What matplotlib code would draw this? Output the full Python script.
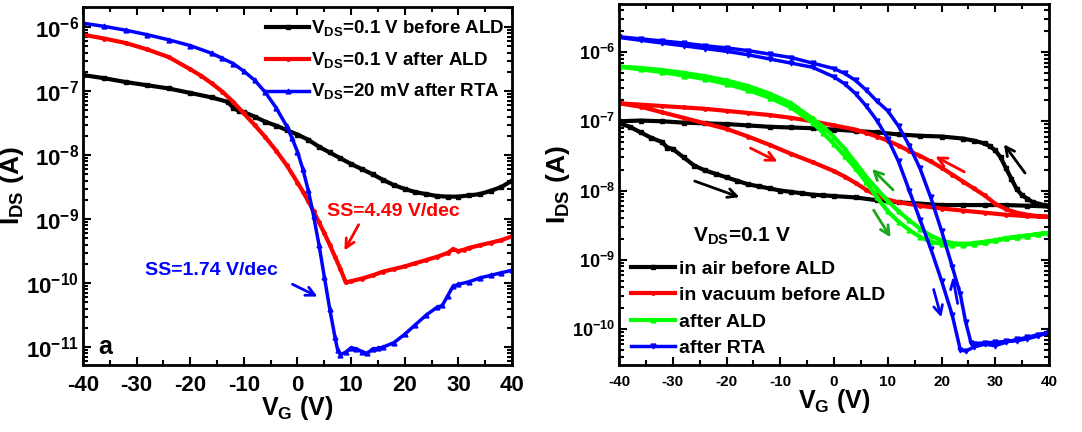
import numpy as np
import matplotlib
matplotlib.use("Agg")
import matplotlib.pyplot as plt
from matplotlib.ticker import MultipleLocator, LogLocator, NullFormatter

plt.rcParams['font.family'] = ['Liberation Sans', 'DejaVu Sans']
plt.rcParams['font.weight'] = 'bold'
plt.rcParams['axes.labelweight'] = 'bold'
plt.rcParams['axes.unicode_minus'] = False

# ---- panel a: transfer curves (log10 of I_DS in A) ----
vg_black_a = [-40, -36, -32, -28, -24, -20, -16, -13, -12, -11, -10, -8, -6, -4, -2, 0, 2, 4, 6, 8,
              10, 12, 14, 16, 18, 20, 22, 24, 26, 28, 30, 32, 34, 36, 38, 40]
log_black_a = [-6.75, -6.80, -6.86, -6.91, -6.96, -7.03, -7.10, -7.17, -7.26, -7.31, -7.33, -7.40, -7.48,
               -7.54, -7.61, -7.68, -7.76, -7.87, -7.96, -8.05, -8.14, -8.22, -8.30, -8.39, -8.47, -8.53,
               -8.58, -8.61, -8.64, -8.65, -8.65, -8.63, -8.61, -8.56, -8.50, -8.40]

vg_red_a = [-40, -36, -32, -28, -24, -20, -18, -16, -14, -12, -10, -8, -6, -4, -2, 0, 1, 2, 3, 4, 5, 6,
            7, 8, 9, 10, 12, 14, 16, 18, 20, 22, 24, 26, 28, 29, 30, 31, 32, 34, 36, 38, 40]
log_red_a = [-6.12, -6.18, -6.25, -6.35, -6.47, -6.66, -6.76, -6.88, -7.01, -7.17, -7.35, -7.53, -7.72,
             -7.93, -8.16, -8.43, -8.57, -8.72, -8.88, -9.05, -9.22, -9.40, -9.59, -9.78, -9.99, -9.97,
             -9.93, -9.88, -9.82, -9.78, -9.74, -9.69, -9.64, -9.59, -9.53, -9.47, -9.50, -9.48, -9.45,
             -9.41, -9.37, -9.33, -9.27]

vg_blue_a = [-40, -36, -32, -28, -24, -20, -16, -14, -12, -10, -8, -6, -4, -2, -1, 0, 1, 2, 3, 4, 5, 6,
             7, 7.5, 8, 9, 10, 11, 12, 13, 14, 15, 16, 18, 20, 22, 24, 26, 27, 28, 29, 30, 32, 34, 36,
             38, 40]
log_blue_a = [-5.94, -5.99, -6.05, -6.12, -6.20, -6.29, -6.41, -6.49, -6.57, -6.69, -6.83, -7.02, -7.26,
              -7.55, -7.74, -7.95, -8.22, -8.55, -8.95, -9.40, -9.90, -10.40, -10.85, -11.05, -11.12,
              -11.08, -11.01, -11.03, -11.07, -11.10, -11.03, -11.02, -11.00, -10.93, -10.80, -10.65,
              -10.50, -10.38, -10.35, -10.20, -10.05, -10.02, -9.98, -9.92, -9.88, -9.84, -9.80]

labels_a = [r'V$_{\mathdefault{DS}}$=0.1 V before ALD',
            r'V$_{\mathdefault{DS}}$=0.1 V after ALD',
            r'V$_{\mathdefault{DS}}$=20 mV after RTA']

# ---- panel b: double sweeps, forward (-40 -> 40) then reverse (40 -> -40) ----
vg_black_fwd = [-40, -38, -36, -34, -32, -31, -30, -28, -26, -24, -22, -20, -18, -16, -14, -12, -10,
                -8, -6, -4, -2, 0, 4, 8, 12, 16, 20, 24, 28, 32, 36, 40]
log_black_fwd = [-7.03, -7.08, -7.16, -7.24, -7.30, -7.38, -7.40, -7.52, -7.64, -7.71, -7.76, -7.81,
                 -7.86, -7.91, -7.94, -7.97, -8.00, -8.02, -8.04, -8.06, -8.07, -8.08, -8.10, -8.14,
                 -8.17, -8.19, -8.21, -8.21, -8.21, -8.21, -8.22, -8.23]
vg_black_rev = [40, 39, 38, 37, 36, 35, 34, 33, 32, 31, 30, 29, 28, 26, 24, 20, 16, 12, 8, 4, 0, -4,
                -8, -12, -16, -20, -24, -28, -32, -36, -40]
log_black_rev = [-8.22, -8.21, -8.19, -8.17, -8.12, -8.07, -7.98, -7.83, -7.68, -7.52, -7.42, -7.36,
                 -7.32, -7.28, -7.25, -7.22, -7.21, -7.19, -7.16, -7.14, -7.12, -7.10, -7.09, -7.08,
                 -7.06, -7.04, -7.03, -7.02, -7.00, -6.99, -7.00]

vg_red_fwd = [-40, -36, -32, -28, -24, -20, -16, -12, -8, -4, 0, 2, 4, 6, 8, 10, 12, 16, 20, 24, 28,
              32, 36, 40]
log_red_fwd = [-6.74, -6.79, -6.87, -6.95, -7.03, -7.11, -7.22, -7.34, -7.47, -7.59, -7.72, -7.80,
               -7.89, -7.99, -8.07, -8.13, -8.17, -8.22, -8.26, -8.29, -8.32, -8.35, -8.37, -8.38]
vg_red_rev = [40, 38, 36, 34, 32, 30, 28, 26, 24, 22, 20, 18, 16, 14, 12, 10, 8, 6, 4, 0, -4, -8, -12,
              -16, -20, -24, -28, -32, -36, -40]
log_red_rev = [-8.38, -8.37, -8.35, -8.32, -8.27, -8.19, -8.07, -7.97, -7.87, -7.77, -7.67, -7.58,
               -7.50, -7.43, -7.35, -7.28, -7.22, -7.17, -7.12, -7.06, -7.00, -6.95, -6.91, -6.88,
               -6.85, -6.82, -6.80, -6.78, -6.76, -6.74]

vg_green_fwd = [-40, -36, -32, -28, -24, -20, -16, -12, -8, -4, -2, 0, 2, 4, 6, 8, 10, 12, 14, 16, 18,
                20, 22, 24, 26, 28, 30, 32, 34, 36, 38, 40]
log_green_fwd = [-6.21, -6.25, -6.29, -6.34, -6.39, -6.46, -6.55, -6.66, -6.80, -7.02, -7.17, -7.33,
                 -7.50, -7.68, -7.88, -8.10, -8.30, -8.45, -8.57, -8.67, -8.74, -8.77, -8.78, -8.78,
                 -8.77, -8.75, -8.72, -8.69, -8.67, -8.65, -8.63, -8.61]
vg_green_rev = [40, 38, 36, 34, 32, 30, 28, 26, 24, 22, 20, 18, 16, 14, 12, 10, 8, 6, 4, 2, 0, -2, -4,
                -8, -12, -16, -20, -24, -28, -32, -36, -40]
log_green_rev = [-8.61, -8.63, -8.65, -8.67, -8.69, -8.72, -8.74, -8.76, -8.77, -8.76, -8.72, -8.65,
                 -8.55, -8.43, -8.30, -8.15, -7.98, -7.80, -7.60, -7.40, -7.23, -7.08, -6.96, -6.74,
                 -6.60, -6.49, -6.41, -6.35, -6.30, -6.26, -6.23, -6.21]

vg_blue_fwd = [-40, -36, -32, -28, -24, -20, -16, -12, -8, -4, 0, 2, 4, 6, 8, 10, 12, 14, 16, 18, 20,
               22, 23.5, 24.5, 26, 28, 30, 32, 34, 36, 38, 40]
log_blue_fwd = [-5.79, -5.83, -5.87, -5.91, -5.95, -5.99, -6.04, -6.10, -6.16, -6.22, -6.36, -6.46,
                -6.60, -6.78, -6.99, -7.25, -7.58, -8.00, -8.42, -8.84, -9.30, -9.80, -10.30, -10.32,
                -10.26, -10.22, -10.24, -10.19, -10.15, -10.12, -10.08, -10.05]
vg_blue_rev = [40, 38, 36, 34, 32, 30, 28, 26, 25.5, 24.5, 23.5, 22, 20, 18, 16, 14, 12, 10, 8, 6, 4,
               2, 0, -4, -8, -12, -16, -20, -24, -28, -32, -36, -40]
log_blue_rev = [-10.05, -10.10, -10.14, -10.17, -10.18, -10.19, -10.20, -10.21, -10.20, -9.90, -9.50,
                -9.10, -8.58, -8.10, -7.68, -7.35, -7.07, -6.85, -6.71, -6.55, -6.41, -6.31, -6.24,
                -6.16, -6.08, -6.03, -5.98, -5.94, -5.91, -5.87, -5.84, -5.81, -5.78]

labels_b = ['in air before ALD', 'in vacuum before ALD', 'after ALD', 'after RTA']


def style_axes(ax, xsize, ysize):
    ax.set_xlim(-40, 40)
    ax.xaxis.set_major_locator(MultipleLocator(10))
    ax.set_xticks(np.arange(-35, 40, 10), minor=True)
    ax.yaxis.set_major_locator(LogLocator(base=10, numticks=20))
    ax.yaxis.set_minor_locator(LogLocator(base=10, subs=np.arange(2, 10), numticks=20))
    ax.yaxis.set_minor_formatter(NullFormatter())
    ax.tick_params(which='both', direction='in', top=True, right=True, width=1.5)
    ax.tick_params(which='major', length=6)
    ax.tick_params(which='minor', length=3.5)
    ax.tick_params(axis='x', labelsize=xsize, pad=7)
    ax.tick_params(axis='y', labelsize=ysize, pad=3)
    for s in ax.spines.values():
        s.set_linewidth(2)


fig = plt.figure(figsize=(10.82, 4.32), dpi=100)

# left panel
ax1 = fig.add_axes([0.0767, 0.155, 0.3965, 0.8287])
ax1.set_yscale('log')
ax1.plot(vg_black_a, np.power(10.0, log_black_a), '-s', color='black', lw=3, ms=2.5, label=labels_a[0])
ax1.plot(vg_red_a, np.power(10.0, log_red_a), '-o', color='red', lw=3, ms=2.5, label=labels_a[1])
ax1.plot(vg_blue_a, np.power(10.0, log_blue_a), '-^', color='blue', lw=2.5, ms=3.5, label=labels_a[2])
ax1.set_ylim(10 ** -11.281, 10 ** -5.6875)
style_axes(ax1, 16, 16)
ax1.set_xlabel(r'V$_{\mathdefault{G}}$ (V)', fontsize=18, labelpad=-1)
ax1.set_ylabel(r'I$_{\mathdefault{DS}}$ (A)', fontsize=19, labelpad=0)
ax1.legend(loc='upper right', bbox_to_anchor=(1.01, 1.0), frameon=False, fontsize=13.5,
           handlelength=2.3, handletextpad=0.1, labelspacing=0.62, borderaxespad=0.2)

ax1.text(5.5, 10 ** -8.875, 'SS=4.49 V/dec', color='red', fontsize=14, va='center', ha='left')
ax1.annotate('', xy=(8.5, 10 ** -9.53), xytext=(11.65, 10 ** -9.05),
             arrowprops=dict(arrowstyle='->', color='red', lw=2, mutation_scale=16))
ax1.text(-28.4, 10 ** -9.81, 'SS=1.74 V/dec', color='blue', fontsize=14, va='center', ha='left')
ax1.annotate('', xy=(4.2, 10 ** -10.23), xytext=(-1.4, 10 ** -10.0),
             arrowprops=dict(arrowstyle='->', color='blue', lw=2, mutation_scale=16))
ax1.text(-37.2, 10 ** -11.0, 'a', color='black', fontsize=18, va='center', ha='left')

# right panel
ax2 = fig.add_axes([0.5721, 0.155, 0.3974, 0.8357])
ax2.set_yscale('log')
ax2.plot(vg_black_fwd + vg_black_rev, np.power(10.0, log_black_fwd + log_black_rev), '-s',
         color='black', lw=3, ms=2.5, label=labels_b[0])
ax2.plot(vg_red_fwd + vg_red_rev, np.power(10.0, log_red_fwd + log_red_rev), '-o',
         color='red', lw=3, ms=2.5, label=labels_b[1])
ax2.plot(vg_green_fwd + vg_green_rev, np.power(10.0, log_green_fwd + log_green_rev), '-^',
         color='#00ff00', lw=3, ms=3.5, label=labels_b[2])
ax2.plot(vg_blue_fwd + vg_blue_rev, np.power(10.0, log_blue_fwd + log_blue_rev), '-v',
         color='blue', lw=2.5, ms=3.5, label=labels_b[3])
ax2.set_ylim(10 ** -10.52, 10 ** -5.307)
style_axes(ax2, 11, 13)
ax2.set_xlabel(r'V$_{\mathdefault{G}}$ (V)', fontsize=18, labelpad=-1)
ax2.set_ylabel(r'I$_{\mathdefault{DS}}$ (A)', fontsize=19, labelpad=0)
ax2.legend(loc='lower left', bbox_to_anchor=(0.0, -0.01), frameon=False, fontsize=14,
           handlelength=2.3, handletextpad=0.2, labelspacing=0.45, borderaxespad=0.2)
ax2.text(-26.2, 10 ** -8.66, r'V$_{\mathdefault{DS}}$=0.1 V', fontsize=15, va='center', ha='left')

arrows_b = [
    ((-26.4, -7.85), (-17.1, -8.11), 'black'),
    ((35.85, -7.78), (31.3, -7.30), 'black'),
    ((-16.0, -7.37), (-10.05, -7.60), 'red'),
    ((24.7, -7.75), (18.4, -7.49), 'red'),
    ((11.35, -8.02), (6.7, -7.66), '#1aa81a'),
    ((7.1, -8.25), (10.8, -8.71), '#1aa81a'),
    ((18.4, -9.39), (20.1, -9.87), 'blue'),
    ((23.1, -9.67), (22.0, -9.21), 'blue'),
]
for (x0, y0), (x1, y1), c in arrows_b:
    ax2.annotate('', xy=(x1, 10 ** y1), xytext=(x0, 10 ** y0),
                 arrowprops=dict(arrowstyle='->', color=c, lw=2, mutation_scale=16))

fig.savefig('out.png', dpi=100)
